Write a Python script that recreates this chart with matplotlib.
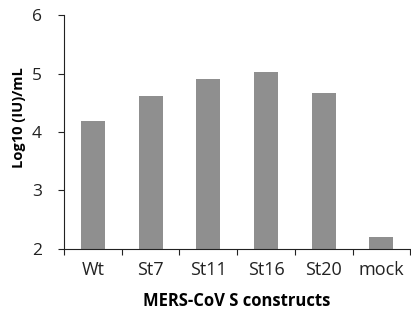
import numpy as np
import matplotlib.pyplot as plt

plt.rcParams['font.family'] = ['Open Sans', 'DejaVu Sans']

constructs = ["Wt", "St7", "St11", "St16", "St20", "mock"]
titer = [4.18, 4.62, 4.90, 5.02, 4.67, 2.21]

fig = plt.figure(figsize=(4.11, 3.2), dpi=100)
ax = fig.add_axes([0.156, 0.222, 0.842, 0.731])

x = np.arange(len(constructs))
ax.bar(x, np.array(titer) - 2, bottom=2, width=0.42, color="#8f8f8f")

ax.set_xlim(-0.5, len(constructs) - 0.5)
ax.set_ylim(2, 6)
ax.set_yticks([2, 3, 4, 5, 6])
ax.tick_params(axis="y", labelsize=12.5, length=4, width=0.8, pad=12, colors="#222222")
ax.set_xticks(x)
ax.set_xticklabels(constructs)
ax.set_xticks(np.arange(-0.5, len(constructs), 1.0), minor=True)
ax.tick_params(axis="x", which="major", length=0, labelsize=13, pad=9, colors="#222222")
ax.tick_params(axis="x", which="minor", length=4, width=0.8, color="#222222")

ax.spines["top"].set_visible(False)
ax.spines["right"].set_visible(False)
ax.spines["left"].set_color("#222222")
ax.spines["bottom"].set_color("#222222")

ax.set_ylabel("Log10 (IU)/mL", fontsize=10.5, fontweight="bold")
ax.yaxis.set_label_coords(-0.11, 0.56)
ax.set_xlabel("MERS-CoV S constructs", fontsize=12, fontweight="bold", labelpad=9)

fig.savefig("out.png", dpi=100)
